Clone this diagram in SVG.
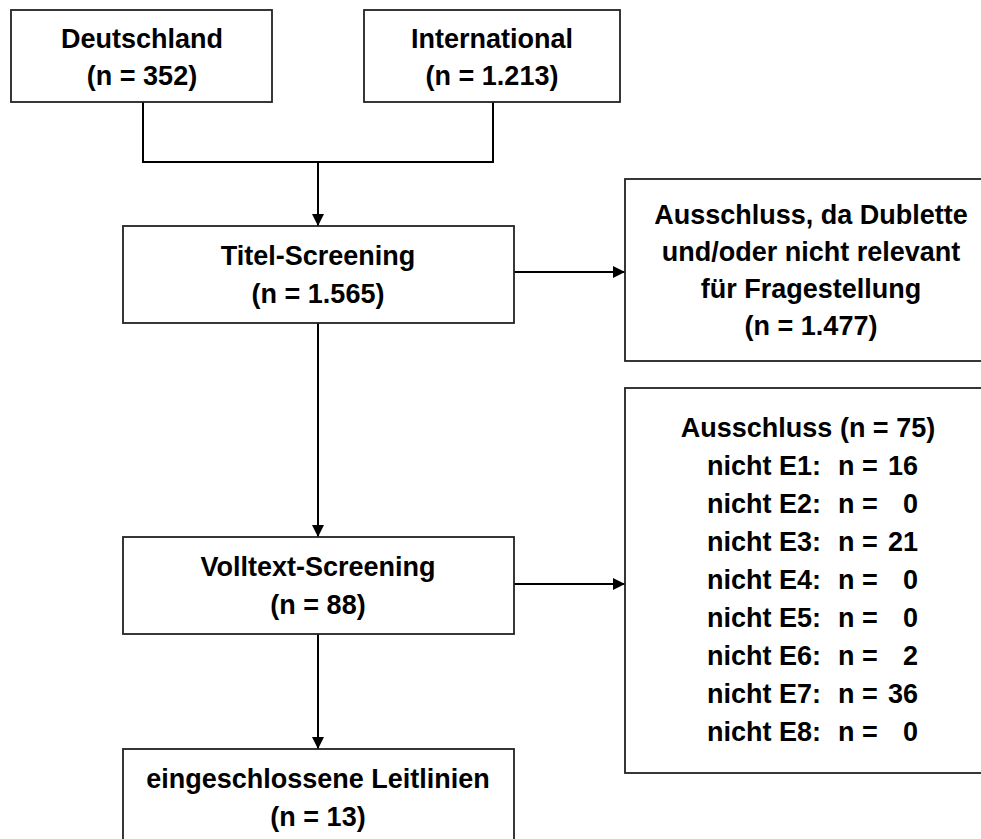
<svg xmlns="http://www.w3.org/2000/svg" width="981" height="839" viewBox="0 0 981 839">
<style>
.box{fill:#fff;stroke:#222;stroke-width:1.8}
.t{font-family:"Liberation Sans",Arial,sans-serif;font-weight:bold;font-size:27px;fill:#000}
.m{text-anchor:middle}
.e{text-anchor:end}
.c{fill:none;stroke:#000;stroke-width:2}
</style>
<defs>
<marker id="ah" viewBox="0 0 12 12" refX="12" refY="6" markerWidth="12" markerHeight="12" markerUnits="userSpaceOnUse" orient="auto">
<path d="M0,0 L12,6 L0,12 Z" fill="#000"/>
</marker>
</defs>
<rect width="981" height="839" fill="#fff"/>
<g id="connectors">
<path class="c" d="M143,102 V162 H493 V102"/>
<path class="c" d="M318,162 V226" marker-end="url(#ah)"/>
<path class="c" d="M514,272 H625" marker-end="url(#ah)"/>
<path class="c" d="M318,323 V537" marker-end="url(#ah)"/>
<path class="c" d="M514,584 H625" marker-end="url(#ah)"/>
<path class="c" d="M318,634 V749" marker-end="url(#ah)"/>
</g>
<g id="deutschland">
<rect class="box" x="11" y="10" width="261" height="92"/>
<text class="t m" x="142" y="48">Deutschland</text>
<text class="t m" x="142" y="85">(n = 352)</text>
</g>
<g id="international">
<rect class="box" x="364" y="10" width="256" height="92"/>
<text class="t m" x="492" y="48">International</text>
<text class="t m" x="492" y="85">(n = 1.213)</text>
</g>
<g id="titel">
<rect class="box" x="123" y="226" width="391" height="97"/>
<text class="t m" x="318" y="265">Titel-Screening</text>
<text class="t m" x="318" y="303">(n = 1.565)</text>
</g>
<g id="ausschluss1">
<rect class="box" x="625" y="179" width="400" height="182"/>
<text class="t m" x="811" y="224">Ausschluss, da Dublette</text>
<text class="t m" x="811" y="261">und/oder nicht relevant</text>
<text class="t m" x="811" y="298">für Fragestellung</text>
<text class="t m" x="811" y="335">(n = 1.477)</text>
</g>
<g id="volltext">
<rect class="box" x="123" y="537" width="391" height="97"/>
<text class="t m" x="318" y="576">Volltext-Screening</text>
<text class="t m" x="318" y="614">(n = 88)</text>
</g>
<g id="ausschluss2">
<rect class="box" x="625" y="388" width="400" height="385"/>
<text class="t m" x="808" y="437">Ausschluss (n = 75)</text>
<text class="t" x="707" y="475">nicht E1:</text><text class="t" x="838" y="475">n =</text><text class="t e" x="918" y="475">16</text>
<text class="t" x="707" y="513">nicht E2:</text><text class="t" x="838" y="513">n =</text><text class="t e" x="918" y="513">0</text>
<text class="t" x="707" y="551">nicht E3:</text><text class="t" x="838" y="551">n =</text><text class="t e" x="918" y="551">21</text>
<text class="t" x="707" y="589">nicht E4:</text><text class="t" x="838" y="589">n =</text><text class="t e" x="918" y="589">0</text>
<text class="t" x="707" y="627">nicht E5:</text><text class="t" x="838" y="627">n =</text><text class="t e" x="918" y="627">0</text>
<text class="t" x="707" y="665">nicht E6:</text><text class="t" x="838" y="665">n =</text><text class="t e" x="918" y="665">2</text>
<text class="t" x="707" y="703">nicht E7:</text><text class="t" x="838" y="703">n =</text><text class="t e" x="918" y="703">36</text>
<text class="t" x="707" y="741">nicht E8:</text><text class="t" x="838" y="741">n =</text><text class="t e" x="918" y="741">0</text>
</g>
<g id="eingeschlossen">
<rect class="box" x="123" y="749" width="391" height="120"/>
<text class="t m" x="318" y="788">eingeschlossene Leitlinien</text>
<text class="t m" x="318" y="826">(n = 13)</text>
</g>
</svg>
